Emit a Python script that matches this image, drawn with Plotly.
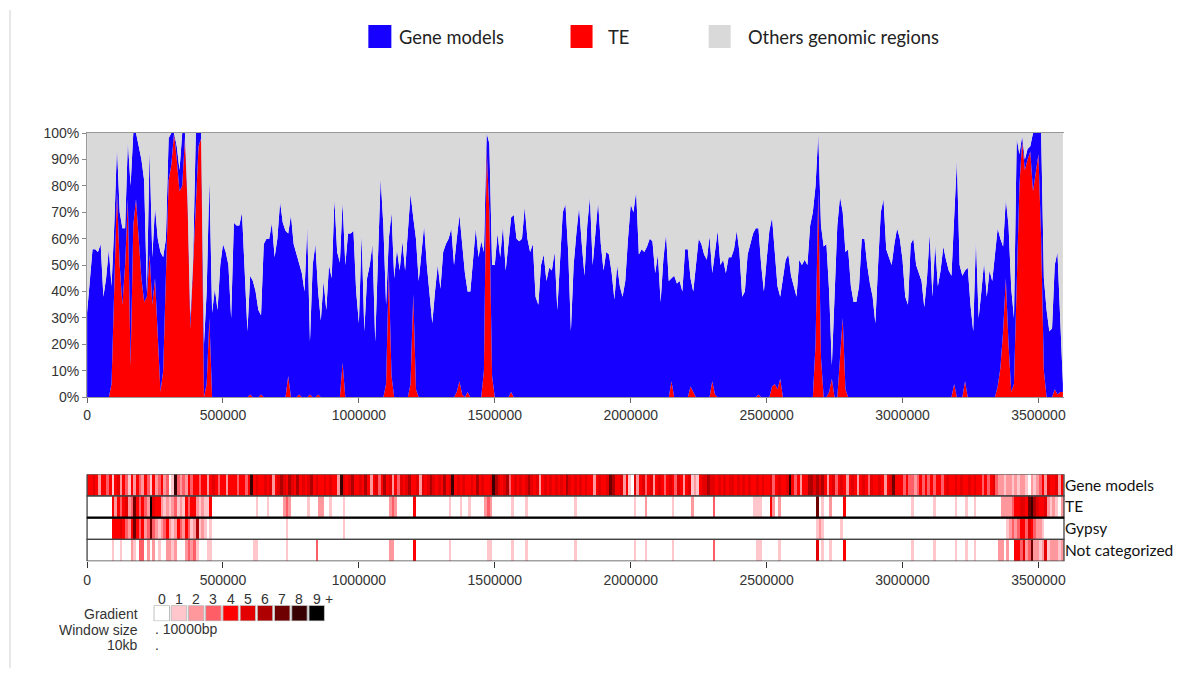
import plotly.graph_objects as go

W, H = 1184, 678
WINDOW = 10000  # bp per window

# ---------------- data: % of each 10 kb window ----------------
te_pct = [
    0, 0, 0, 0, 0, 0, 0, 0, 0, 5,
    40, 78, 50, 35, 50, 75, 12, 65, 75, 58,
    45, 36, 38, 54, 35, 45, 25, 2, 10, 50,
    82, 88, 100, 90, 78, 80, 98, 72, 26, 50,
    75, 95, 98, 0, 5, 30, 0, 0, 0, 0,
    0, 0, 0, 0, 0, 0, 0, 0, 0, 0,
    1, 0, 0, 0, 1, 0, 0, 0, 0, 0,
    0, 0, 0, 0, 8, 0, 0, 0, 1, 0,
    0, 0, 1, 0, 0, 1, 0, 0, 0, 0,
    0, 0, 0, 0, 13, 0, 0, 0, 0, 0,
    0, 0, 0, 0, 0, 0, 0, 0, 0, 0,
    5, 48, 8, 0, 0, 0, 0, 0, 0, 5,
    39, 3, 0, 0, 0, 0, 0, 0, 0, 0,
    0, 0, 0, 0, 0, 0, 2, 6, 1, 0,
    2, 0, 0, 0, 0, 0, 10, 94, 70, 8,
    0, 0, 0, 0, 0, 0, 2, 0, 0, 0,
    0, 0, 0, 0, 0, 0, 0, 0, 0, 0,
    0, 0, 0, 0, 0, 0, 0, 0, 0, 0,
    0, 0, 0, 0, 0, 0, 0, 0, 0, 0,
    0, 0, 0, 0, 0, 0, 0, 0, 0, 0,
    0, 0, 0, 0, 0, 0, 0, 0, 0, 0,
    0, 0, 0, 0, 0, 6, 0, 0, 0, 0,
    0, 0, 4, 2, 0, 0, 0, 0, 0, 0,
    6, 1, 0, 0, 0, 0, 0, 0, 0, 0,
    0, 0, 0, 0, 0, 0, 0, 1, 0, 0,
    0, 0, 4, 5, 3, 7, 0, 0, 0, 0,
    0, 0, 0, 0, 0, 0, 0, 0, 20, 78,
    15, 0, 0, 2, 7, 0, 0, 15, 30, 3,
    0, 0, 0, 0, 0, 0, 0, 0, 0, 0,
    0, 0, 0, 0, 0, 0, 0, 0, 0, 0,
    0, 0, 0, 0, 0, 0, 0, 0, 0, 0,
    0, 0, 0, 0, 0, 0, 0, 0, 0, 5,
    0, 0, 0, 6, 0, 0, 0, 0, 0, 0,
    0, 0, 0, 0, 0, 4, 11, 25, 45, 20,
    2, 5, 40, 80, 97, 86, 90, 93, 78, 86,
    92, 60, 10, 0, 0, 0, 3, 1, 2, 2,
]

gene_pct = [
    32, 45, 56, 56, 55, 58, 38, 45, 56, 37,
    25, 17, 20, 29, 14, 22, 68, 35, 25, 37,
    45, 46, 2, 40, 18, 27, 35, 53, 43, 10,
    16, 12, 0, 5, 8, 20, 2, 3, 4, 2,
    25, 5, 2, 20, 35, 53, 32, 41, 33, 50,
    58, 55, 50, 30, 66, 65, 65, 70, 45, 25,
    45, 44, 40, 33, 30, 58, 60, 60, 66, 53,
    60, 74, 66, 63, 54, 69, 58, 54, 50, 47,
    40, 65, 20, 50, 58, 39, 29, 44, 33, 50,
    45, 75, 55, 51, 61, 50, 62, 62, 63, 40,
    28, 62, 25, 45, 50, 58, 21, 50, 83, 65,
    30, 12, 62, 45, 56, 48, 59, 48, 62, 72,
    29, 57, 44, 55, 65, 50, 38, 28, 40, 50,
    41, 55, 58, 60, 64, 50, 58, 63, 57, 47,
    38, 40, 52, 64, 53, 59, 45, 6, 26, 42,
    50, 62, 53, 65, 48, 58, 66, 69, 60, 59,
    60, 72, 60, 55, 58, 38, 35, 50, 54, 44,
    49, 48, 55, 33, 52, 70, 73, 55, 25, 50,
    62, 72, 58, 46, 65, 76, 50, 62, 74, 58,
    48, 55, 54, 47, 37, 50, 42, 38, 44, 60,
    73, 70, 78, 54, 56, 55, 57, 60, 59, 47,
    54, 36, 52, 62, 44, 39, 46, 43, 44, 40,
    56, 56, 41, 38, 50, 60, 58, 54, 52, 61,
    41, 55, 63, 50, 52, 47, 53, 53, 56, 63,
    55, 38, 40, 54, 58, 62, 64, 63, 50, 40,
    52, 63, 64, 50, 39, 31, 45, 52, 54, 46,
    42, 38, 52, 50, 52, 50, 65, 70, 60, 22,
    50, 57, 58, 38, 5, 40, 65, 61, 40, 52,
    56, 42, 36, 36, 42, 60, 60, 50, 43, 38,
    28, 50, 70, 75, 56, 53, 50, 58, 64, 60,
    52, 38, 35, 58, 60, 50, 47, 44, 34, 45,
    62, 38, 58, 42, 48, 57, 52, 48, 46, 65,
    90, 50, 46, 42, 49, 35, 25, 60, 30, 40,
    51, 38, 48, 44, 55, 60, 49, 32, 30, 45,
    39, 25, 58, 12, 2, 4, 4, 2, 22, 14,
    8, 40, 35, 33, 25, 26, 47, 54, 28, 3,
]

# ---------------- data: gradient level (0..9+) per 10 kb window ----------------
heat_gene = [
    4, 4, 5, 4, 2, 4, 4, 3, 4, 1,
    4, 5, 2, 4, 3, 1, 4, 2, 4, 3,
    2, 4, 3, 1, 4, 2, 3, 4, 2, 3,
    0, 1, 8, 3, 2, 3, 2, 4, 3, 4,
    4, 3, 4, 4, 2, 4, 5, 4, 3, 4,
    4, 2, 4, 4, 4, 3, 4, 4, 3, 4,
    8, 4, 5, 4, 4, 5, 4, 5, 2, 4,
    5, 6, 5, 4, 6, 5, 4, 6, 4, 5,
    4, 5, 6, 4, 5, 4, 4, 5, 4, 5,
    4, 4, 2, 8, 5, 4, 5, 6, 4, 4,
    5, 4, 6, 4, 2, 4, 5, 3, 4, 6,
    4, 5, 2, 4, 3, 5, 4, 5, 6, 4,
    4, 5, 2, 5, 4, 5, 6, 5, 4, 5,
    4, 6, 4, 5, 8, 4, 5, 4, 5, 4,
    4, 5, 4, 6, 4, 5, 4, 4, 5, 8,
    6, 5, 4, 5, 6, 3, 4, 5, 4, 5,
    4, 5, 6, 5, 4, 5, 2, 4, 5, 4,
    5, 4, 5, 4, 5, 4, 6, 5, 4, 5,
    4, 5, 4, 5, 4, 4, 2, 4, 5, 4,
    4, 5, 7, 6, 4, 4, 5, 2, 4, 1,
    0, 5, 2, 4, 5, 3, 4, 5, 2, 4,
    5, 4, 3, 4, 5, 4, 3, 5, 4, 2,
    4, 5, 1, 2, 1, 4, 5, 5, 6, 5,
    5, 4, 5, 4, 5, 4, 5, 5, 4, 5,
    4, 5, 4, 5, 4, 4, 5, 4, 5, 4,
    4, 5, 3, 4, 5, 4, 4, 5, 8, 4,
    3, 4, 2, 4, 4, 6, 6, 5, 6, 5,
    6, 4, 2, 4, 5, 3, 4, 5, 4, 2,
    4, 5, 4, 2, 4, 5, 4, 3, 5, 4,
    4, 5, 4, 2, 4, 5, 7, 4, 4, 4,
    3, 4, 3, 3, 2, 3, 4, 3, 4, 3,
    4, 3, 4, 4, 3, 4, 5, 4, 4, 5,
    4, 5, 4, 4, 5, 4, 5, 4, 4, 3,
    4, 3, 4, 5, 3, 2, 2, 1, 2, 2,
    1, 2, 1, 2, 2, 1, 0, 2, 1, 2,
    3, 4, 2, 5, 4, 4, 5, 2, 4, 3,
]

heat_te = [
    0, 0, 0, 0, 0, 0, 0, 0, 0, 4,
    2, 4, 3, 4, 5, 2, 3, 7, 4, 3,
    4, 3, 2, 9, 5, 4, 4, 2, 1, 2,
    1, 2, 3, 1, 2, 1, 4, 3, 4, 4,
    2, 1, 2, 1, 1, 4, 0, 0, 0, 0,
    0, 0, 0, 0, 0, 0, 0, 0, 0, 0,
    0, 0, 1, 0, 0, 0, 1, 0, 0, 0,
    0, 0, 2, 3, 2, 0, 0, 0, 0, 0,
    0, 1, 0, 0, 0, 2, 2, 0, 0, 1,
    0, 0, 0, 0, 1, 0, 0, 0, 0, 0,
    0, 0, 0, 0, 0, 0, 0, 0, 0, 0,
    0, 2, 3, 2, 0, 0, 0, 0, 0, 0,
    4, 0, 0, 0, 0, 0, 0, 0, 0, 0,
    0, 0, 0, 1, 0, 0, 0, 1, 0, 0,
    1, 0, 0, 0, 0, 0, 2, 3, 2, 0,
    0, 0, 0, 0, 0, 0, 1, 0, 0, 0,
    0, 1, 0, 0, 0, 0, 0, 0, 0, 0,
    0, 0, 0, 0, 0, 0, 0, 0, 0, 1,
    0, 0, 0, 0, 0, 0, 0, 0, 0, 0,
    0, 0, 0, 0, 0, 0, 0, 0, 0, 0,
    0, 1, 0, 0, 0, 2, 0, 0, 0, 0,
    0, 0, 0, 0, 0, 1, 0, 0, 0, 0,
    0, 0, 2, 0, 0, 0, 0, 0, 0, 0,
    3, 0, 0, 0, 0, 0, 0, 0, 0, 0,
    0, 0, 0, 0, 0, 1, 1, 1, 0, 0,
    0, 4, 2, 0, 2, 0, 0, 0, 0, 0,
    0, 0, 0, 0, 0, 0, 0, 0, 7, 0,
    1, 0, 0, 2, 0, 0, 0, 0, 4, 0,
    0, 0, 0, 0, 0, 0, 0, 0, 0, 0,
    0, 0, 0, 0, 0, 0, 0, 0, 0, 0,
    0, 0, 0, 1, 0, 0, 0, 0, 0, 0,
    0, 1, 0, 0, 0, 0, 0, 0, 0, 1,
    0, 0, 0, 1, 0, 0, 1, 0, 0, 0,
    0, 0, 0, 0, 0, 0, 2, 2, 2, 2,
    3, 4, 4, 5, 5, 4, 7, 8, 6, 5,
    4, 4, 5, 2, 1, 2, 1, 0, 2, 2,
]

heat_gypsy = [
    0, 0, 0, 0, 0, 0, 0, 0, 0, 4,
    4, 4, 5, 4, 3, 2, 4, 7, 4, 3,
    4, 2, 3, 7, 3, 2, 1, 2, 3, 4,
    2, 1, 2, 4, 3, 2, 4, 3, 1, 2,
    6, 1, 2, 1, 0, 1, 0, 0, 0, 0,
    0, 0, 0, 0, 0, 0, 0, 0, 0, 0,
    0, 0, 0, 0, 0, 0, 0, 0, 0, 0,
    0, 0, 0, 1, 0, 0, 0, 0, 0, 0,
    0, 0, 0, 0, 0, 0, 0, 0, 0, 0,
    0, 0, 0, 0, 1, 0, 0, 0, 0, 0,
    0, 0, 0, 0, 0, 0, 0, 0, 0, 0,
    0, 0, 0, 0, 0, 0, 0, 0, 0, 0,
    0, 0, 0, 0, 0, 0, 0, 0, 0, 0,
    0, 0, 0, 0, 0, 0, 0, 0, 0, 0,
    0, 0, 0, 0, 0, 0, 0, 0, 0, 0,
    0, 0, 0, 0, 0, 0, 0, 0, 0, 0,
    0, 0, 0, 0, 0, 0, 0, 0, 0, 0,
    0, 0, 0, 0, 0, 0, 0, 0, 0, 0,
    0, 0, 0, 0, 0, 0, 0, 0, 0, 0,
    0, 0, 0, 0, 0, 0, 0, 0, 0, 0,
    0, 0, 0, 0, 0, 0, 0, 0, 0, 0,
    0, 0, 0, 0, 0, 0, 0, 0, 0, 0,
    0, 0, 0, 0, 0, 0, 0, 0, 0, 0,
    0, 0, 0, 0, 0, 0, 0, 0, 0, 0,
    0, 0, 0, 0, 0, 0, 0, 0, 0, 0,
    0, 0, 0, 0, 0, 0, 0, 0, 0, 0,
    0, 0, 0, 0, 0, 0, 0, 0, 1, 2,
    1, 0, 0, 0, 0, 0, 0, 1, 0, 0,
    0, 0, 0, 0, 0, 0, 0, 0, 0, 0,
    0, 0, 0, 0, 0, 0, 0, 0, 0, 0,
    0, 0, 0, 0, 0, 0, 0, 0, 0, 0,
    0, 0, 0, 0, 0, 0, 0, 0, 0, 0,
    0, 0, 0, 0, 0, 0, 0, 0, 0, 0,
    0, 0, 0, 0, 0, 0, 0, 0, 1, 2,
    3, 2, 3, 4, 4, 3, 5, 4, 3, 2,
    2, 1, 0, 0, 0, 0, 0, 0, 0, 0,
]

heat_notcat = [
    0, 0, 0, 0, 0, 0, 0, 0, 0, 1,
    0, 0, 1, 0, 0, 0, 2, 1, 0, 3,
    3, 0, 2, 0, 2, 0, 1, 0, 0, 2,
    2, 1, 2, 0, 0, 0, 2, 3, 2, 3,
    1, 0, 0, 0, 1, 1, 0, 0, 0, 0,
    0, 0, 0, 0, 0, 0, 0, 0, 0, 0,
    0, 1, 1, 0, 0, 0, 0, 0, 0, 0,
    0, 0, 0, 1, 0, 0, 0, 0, 0, 0,
    0, 0, 0, 0, 3, 0, 0, 0, 0, 0,
    0, 0, 0, 0, 0, 0, 0, 0, 0, 0,
    0, 0, 0, 0, 0, 0, 0, 0, 0, 0,
    0, 2, 2, 0, 0, 0, 0, 0, 0, 0,
    4, 0, 0, 0, 0, 0, 0, 0, 0, 0,
    0, 0, 0, 1, 0, 0, 0, 0, 0, 0,
    0, 0, 0, 0, 0, 0, 0, 1, 1, 0,
    0, 0, 0, 0, 0, 0, 1, 0, 0, 0,
    0, 1, 0, 0, 0, 0, 0, 0, 0, 0,
    0, 0, 0, 0, 0, 0, 0, 0, 0, 1,
    0, 0, 0, 0, 0, 0, 0, 0, 0, 0,
    0, 0, 0, 0, 0, 0, 0, 0, 0, 0,
    0, 1, 0, 0, 0, 1, 0, 0, 0, 0,
    0, 0, 0, 0, 0, 1, 0, 0, 0, 0,
    0, 0, 0, 0, 0, 0, 0, 0, 0, 0,
    3, 0, 0, 0, 0, 0, 0, 0, 0, 0,
    0, 0, 0, 0, 0, 0, 1, 1, 0, 0,
    0, 0, 0, 0, 1, 0, 0, 0, 0, 0,
    0, 0, 0, 0, 0, 0, 0, 0, 5, 0,
    1, 0, 0, 1, 0, 0, 0, 0, 4, 0,
    0, 0, 0, 0, 0, 0, 0, 0, 0, 0,
    0, 0, 0, 0, 0, 0, 0, 0, 0, 0,
    0, 0, 0, 1, 0, 0, 0, 0, 0, 0,
    0, 1, 0, 0, 0, 0, 0, 0, 0, 1,
    0, 0, 0, 1, 0, 0, 1, 0, 0, 0,
    0, 0, 0, 0, 0, 2, 2, 0, 2, 0,
    0, 4, 4, 3, 5, 2, 3, 7, 2, 2,
    1, 2, 5, 1, 2, 2, 2, 1, 2, 2,
]

row_names = ["Gene models", "TE", "Gypsy", "Not categorized"]
legend_names = ["Gene models", "TE", "Others genomic regions"]
gradient_levels = [0, 1, 2, 3, 4, 5, 6, 7, 8, 9]
gradient_labels = ["0", "1", "2", "3", "4", "5", "6", "7", "8", "9"]
gradient_colors = ["#ffffff", "#ffc6cb", "#ff989c", "#ff5e66", "#ff0000",
                   "#e40000", "#ae0000", "#6e0000", "#380000", "#000000"]
x_ticks = [0, 500000, 1000000, 1500000, 2000000, 2500000, 3000000, 3500000]
y_ticks = [0, 10, 20, 30, 40, 50, 60, 70, 80, 90, 100]

positions = [i * WINDOW for i in range(len(te_pct))]
others_pct = [max(0, 100 - t - g) for t, g in zip(te_pct, gene_pct)]

BLUE, RED, GREY = "#1600ff", "#ff0000", "#d9d9d9"

# discrete colour scale for levels 0..9
n = len(gradient_colors)
cscale = []
for i, c in enumerate(gradient_colors):
    cscale.append([i / n, c])
    cscale.append([(i + 1) / n, c])

# the captured page is offset/compressed slightly; map target pixels to paper fractions
SX, OX = 0.994, 4.0
SY, OY = 0.976, 8.0


def fx(px):
    return ((px - OX) / SX) / W


def fy(py):
    return 1 - ((py - OY) / SY) / H


fig = go.Figure()
fig.add_trace(go.Scatter(x=positions, y=te_pct, stackgroup="cov", mode="lines",
                         line=dict(width=0, color=RED), fillcolor=RED,
                         name=legend_names[1], showlegend=False))
fig.add_trace(go.Scatter(x=positions, y=gene_pct, stackgroup="cov", mode="lines",
                         line=dict(width=0, color=BLUE), fillcolor=BLUE,
                         name=legend_names[0], showlegend=False))
fig.add_trace(go.Scatter(x=positions, y=others_pct, stackgroup="cov", mode="lines",
                         line=dict(width=0, color=GREY), fillcolor=GREY,
                         name=legend_names[2], showlegend=False))

fig.add_trace(go.Heatmap(z=[heat_gene, heat_te, heat_gypsy, heat_notcat],
                         x0=WINDOW / 2, dx=WINDOW, y=[0, 1, 2, 3],
                         colorscale=cscale, zmin=-0.5, zmax=9.5, showscale=False,
                         xaxis="x2", yaxis="y2"))

fig.add_trace(go.Scatter(x=gradient_levels, y=[0] * len(gradient_levels), mode="markers",
                         marker=dict(symbol="square", size=15.5, color=gradient_levels,
                                     colorscale=cscale, cmin=-0.5, cmax=9.5,
                                     line=dict(width=1, color="#bdbdbd")),
                         xaxis="x3", yaxis="y3", showlegend=False))

tick_font = dict(family="Liberation Sans, Arial, sans-serif", size=14, color="#333")
XDOM = [fx(87), fx(1063)]
XR = [0, 3594000]

fig.update_layout(
    width=W, height=H, margin=dict(l=0, r=0, t=0, b=0),
    paper_bgcolor="white", plot_bgcolor="white", showlegend=False,
    xaxis=dict(domain=XDOM, range=XR, anchor="y", tickvals=x_ticks,
               ticktext=[str(v) for v in x_ticks], ticks="outside", ticklen=5,
               tickcolor="#666", showline=True, linecolor="#999", mirror=True,
               showgrid=False, zeroline=False, tickfont=tick_font),
    yaxis=dict(domain=[fy(397), fy(133)], range=[0, 100], anchor="x",
               tickvals=y_ticks, ticktext=[f"{v}%" for v in y_ticks],
               ticks="outside", ticklen=4, tickcolor="#888", showline=True,
               linecolor="#999", showgrid=False, zeroline=False, tickfont=tick_font),
    xaxis2=dict(domain=XDOM, range=XR, anchor="y2", tickvals=x_ticks,
                ticktext=[str(v) for v in x_ticks], ticks="outside", ticklen=6,
                tickcolor="#333", showline=False, showgrid=False, zeroline=False,
                tickfont=tick_font),
    yaxis2=dict(domain=[fy(561), fy(474)], range=[3.5, -0.5], anchor="x2",
                side="right", tickvals=[0, 1, 2, 3], ticktext=row_names, ticks="",
                showgrid=False, zeroline=False, showline=False,
                tickfont=dict(family="Lato, sans-serif", size=15.5, color="#111")),
    xaxis3=dict(domain=[fx(153), fx(325)], range=[-0.5, 9.5], anchor="y3", visible=False),
    yaxis3=dict(domain=[fy(621), fy(605)], range=[-1, 1], anchor="x3", visible=False),
)

shapes = []
# outer slide border line
shapes.append(dict(type="line", xref="paper", yref="paper", x0=fx(10), x1=fx(10),
                   y0=fy(668), y1=fy(10), line=dict(color="#d0d0d0", width=1)))
# heatmap row frames
for r in range(4):
    shapes.append(dict(type="rect", xref="x2 domain", yref="y2", x0=0, x1=1,
                       y0=r - 0.5, y1=r + 0.5, line=dict(color="#444", width=1.3)))
shapes.append(dict(type="line", xref="x2 domain", yref="y2", x0=0, x1=1, y0=1.5, y1=1.5,
                   line=dict(color="#000", width=2.2)))
# top legend swatches
legend_x = [(368, 391), (570, 592), (708, 730)]
legend_cols = [BLUE, RED, GREY]
for (a, b), c in zip(legend_x, legend_cols):
    shapes.append(dict(type="rect", xref="paper", yref="paper", x0=fx(a), x1=fx(b),
                       y0=fy(48), y1=fy(25), fillcolor=c, line=dict(width=0)))
fig.update_layout(shapes=shapes)

ann = []
legend_text_x = [397, 605, 745]
for name, x in zip(legend_names, legend_text_x):
    ann.append(dict(text=name, xref="paper", yref="paper", x=fx(x), y=fy(37),
                    xanchor="left", yanchor="middle", showarrow=False,
                    font=dict(family="Lato, sans-serif", size=18.3, color="#222")))
for lvl, lab in zip(gradient_levels, gradient_labels):
    ann.append(dict(text=lab, xref="x3", yref="paper", x=lvl, y=fy(598.5),
                    xanchor="center", yanchor="middle", showarrow=False, font=tick_font))
ann.append(dict(text="+", xref="x3", yref="paper", x=9.38, y=fy(598.5),
                xanchor="left", yanchor="middle", showarrow=False, font=tick_font))
for txt, yy in [("Gradient", 614), ("Window size", 630), ("10kb", 645)]:
    ann.append(dict(text=txt, xref="paper", yref="paper", x=fx(140), y=fy(yy),
                    xanchor="right", yanchor="middle", showarrow=False, font=tick_font))
ann.append(dict(text=". 10000bp", xref="paper", yref="paper", x=fx(153), y=fy(629),
                xanchor="left", yanchor="middle", showarrow=False, font=tick_font))
ann.append(dict(text=".", xref="paper", yref="paper", x=fx(153), y=fy(645),
                xanchor="left", yanchor="middle", showarrow=False, font=tick_font))
fig.update_layout(annotations=ann)

fig.write_html("out.html")
